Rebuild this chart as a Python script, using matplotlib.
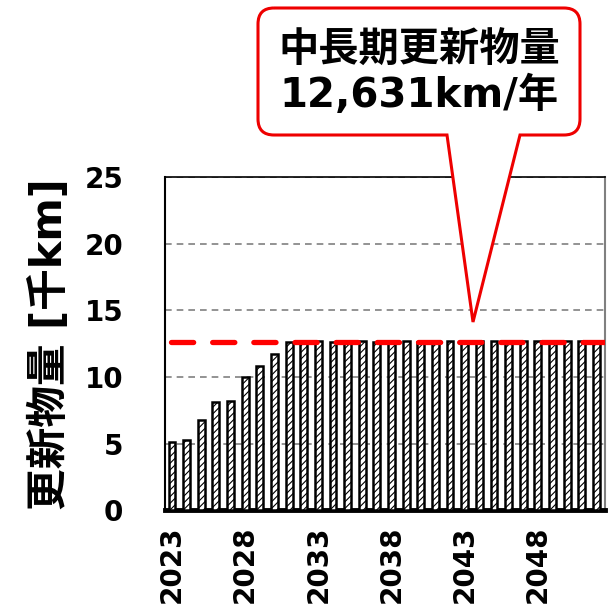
import matplotlib.pyplot as plt
import numpy as np
from matplotlib.path import Path
from matplotlib.patches import PathPatch

plt.rcParams['font.family'] = ['DejaVu Sans', 'Noto Sans CJK JP']
plt.rcParams['hatch.linewidth'] = 0.8

# data (thousand km per year)
years = list(range(2023, 2053))
renewal = [5.1, 5.3, 6.75, 8.1, 8.2, 10.0, 10.85, 11.75, 12.65, 12.7,
           12.7, 12.65, 12.7, 12.7, 12.65, 12.7, 12.7, 12.65, 12.7, 12.7,
           12.65, 12.7, 12.7, 12.65, 12.7, 12.7, 12.65, 12.7, 12.7, 12.65]
target = 12.631
tick_years = [2023, 2028, 2033, 2038, 2043, 2048]

fig = plt.figure(figsize=(6.11, 6.11), dpi=100)
ax = fig.add_axes([0.270, 0.165, 0.720, 0.545])

x = np.arange(len(years))
ax.bar(x, renewal, width=0.47, color='white', edgecolor='black',
       linewidth=1.8, hatch='/////', zorder=3)
ax.plot([-0.1, x[-1] + 0.6], [target, target], color='#ff0000', lw=3.8,
        dashes=(4.2, 3.6), dash_capstyle='round', zorder=4)

ax.set_ylim(0, 25)
ax.set_xlim(-0.48, 29.58)
ax.set_yticks([0, 5, 10, 15, 20, 25])
ax.yaxis.grid(True, color='#808080', linestyle=(0, (4, 3)), lw=1.2)
ax.set_axisbelow(True)
ax.set_xticks([years.index(y) for y in tick_years])
ax.set_xticklabels([str(y) for y in tick_years], rotation=90,
                   fontsize=20, fontweight='bold')
for t in ax.get_yticklabels():
    t.set_fontsize(20)
    t.set_fontweight('bold')
ax.tick_params(axis='y', length=0, pad=30)
ax.tick_params(axis='x', length=0, pad=11)
ax.set_ylabel('更新物量 [千km]', fontsize=30, fontweight='bold', labelpad=10)

ax.spines['bottom'].set_linewidth(3.5)
ax.spines['left'].set_linewidth(1.5)
ax.spines['top'].set_linewidth(1.2)
ax.spines['right'].set_linewidth(1.5)
ax.spines['right'].set_color('#808080')

# callout box with tail (figure pixel coords, y down)
ov = fig.add_axes([0, 0, 1, 1], zorder=10)
ov.set_xlim(0, 611)
ov.set_ylim(611, 0)
ov.axis('off')
l, r, t, b, rad = 258, 580, 8, 135, 16
tail_l, tail_r, tip = 447, 520, (473, 322)
verts = [(l + rad, t), (r - rad, t), (r, t), (r, t + rad), (r, b - rad), (r, b),
         (r - rad, b), (tail_r, b), tip, (tail_l, b), (l + rad, b), (l, b),
         (l, b - rad), (l, t + rad), (l, t), (l + rad, t)]
codes = [Path.MOVETO, Path.LINETO, Path.CURVE3, Path.CURVE3, Path.LINETO,
         Path.CURVE3, Path.CURVE3, Path.LINETO, Path.LINETO, Path.LINETO,
         Path.LINETO, Path.CURVE3, Path.CURVE3, Path.LINETO, Path.CURVE3,
         Path.CURVE3]
ov.add_patch(PathPatch(Path(verts, codes), facecolor='white',
                       edgecolor='#ee0000', lw=2.2))
ov.text((l + r) / 2, (t + b) / 2 + 2, '中長期更新物量\n12,631km/年',
        ha='center', va='center', fontsize=29, fontweight='bold',
        linespacing=1.15)

fig.savefig('out.png', dpi=100)
